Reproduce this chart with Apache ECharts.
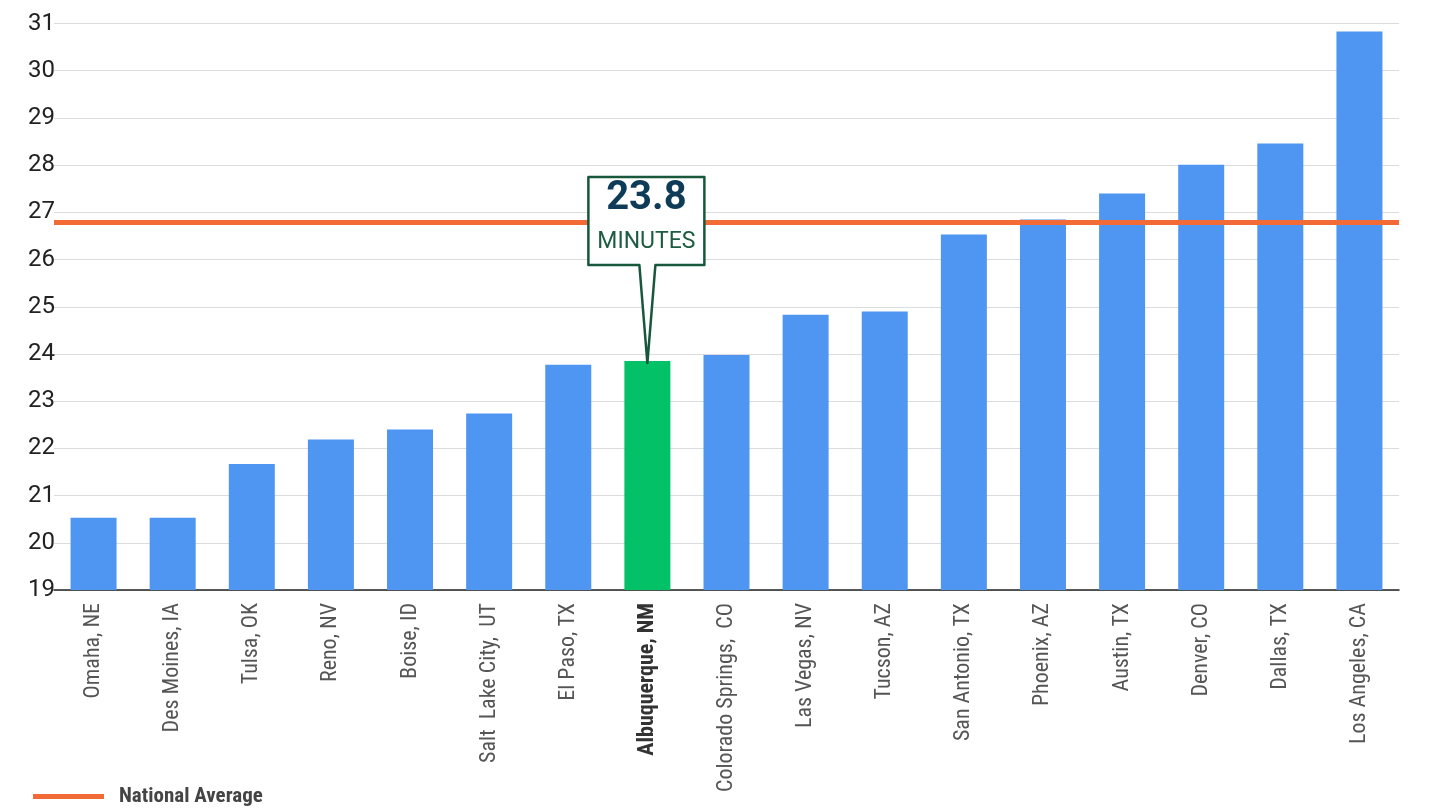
<!DOCTYPE html>
<html><head><meta charset="utf-8">
<script src="https://cdn.jsdelivr.net/npm/echarts@6/dist/echarts.min.js"></script>
<style>html,body{margin:0;padding:0;background:#fff}#c{width:1432px;height:808px}</style>
</head><body><div id="c"></div>
<script>
const categories = ['Omaha, NE','Des Moines, IA','Tulsa, OK','Reno, NV','Boise, ID','Salt  Lake City,  UT','El Paso, TX','Albuquerque, NM','Colorado Springs,  CO','Las Vegas, NV','Tucson, AZ','San Antonio, TX','Phoenix, AZ','Austin, TX','Denver, CO','Dallas, TX','Los Angeles, CA'];
const commuteMinutes = [20.53,20.53,21.67,22.19,22.4,22.74,23.77,23.85,23.98,24.83,24.9,26.53,26.85,27.4,28.01,28.46,30.83];
const nationalAverage = 26.78;
const highlightCity = 'Albuquerque, NM';
const calloutValue = '23.8';
const calloutUnit = 'MINUTES';
const legendName = 'National Average';
const yMin = 19, yMax = 31, yInterval = 1;

const BLUE = '#4f95f2', GREEN = '#02c167', ORANGE = '#f26a36';
const NARROW = '"Liberation Sans Narrow","Roboto Condensed","DejaVu Sans Condensed",Roboto,sans-serif';
const hi = categories.indexOf(highlightCity);

const chart = echarts.init(document.getElementById('c'), null, {renderer:'canvas'});
chart.setOption({
  animation:false,
  backgroundColor:'#ffffff',
  grid:{left:54, right:33, top:23.5, bottom:218, containLabel:false},
  legend:{
    left:28, top:781, itemWidth:71, itemHeight:5, icon:'rect',
    data:[{name:legendName, icon:'rect'}],
    textStyle:{fontFamily:NARROW, fontWeight:'bold', fontSize:21, color:'#444', padding:[0,0,0,10]}
  },
  xAxis:{
    type:'category',
    data:categories.map(c => c === highlightCity ? {value:c, textStyle:{fontWeight:'bold', color:'#333'}} : c),
    axisLine:{lineStyle:{color:'#222', width:1.5}},
    axisTick:{show:false},
    axisLabel:{rotate:90, interval:0, margin:13, fontFamily:NARROW, fontSize:22, color:'#555'}
  },
  yAxis:{
    type:'value', min:yMin, max:yMax, interval:yInterval,
    axisLine:{show:false}, axisTick:{show:false},
    axisLabel:{margin:-1, fontFamily:'Roboto', fontSize:24, color:'#222'},
    splitLine:{lineStyle:{color:'#dadddf', width:1}}
  },
  series:[
    {
      type:'bar', name:'Commute', barWidth:46, z:2,
      data:commuteMinutes.map((v,i) => i === hi ? {value:v, itemStyle:{color:GREEN}} : v),
      itemStyle:{color:BLUE}
    },
    {
      type:'line', name:legendName, data:[], color:ORANGE, z:5,
      markLine:{
        silent:true, symbol:'none', animation:false,
        label:{show:false},
        lineStyle:{color:ORANGE, width:5, type:'solid'},
        data:[{yAxis:nationalAverage}]
      }
    }
  ]
});

const p = chart.convertToPixel({seriesIndex:0}, [hi, commuteMinutes[hi]]);
const tx = p[0], ty = p[1];
const bw = 116, bh = 88, gap = 96;
const cx = tx - 1, bb = ty - gap, bt = bb - bh, bl = cx - bw/2, br = cx + bw/2;
chart.setOption({graphic:[
  {type:'polygon', z:100, shape:{points:[[bl,bt],[br,bt],[br,bb],[cx+9,bb],[tx,ty+2],[cx-7,bb],[bl,bb]]},
   style:{fill:'#ffffff', stroke:'#17583d', lineWidth:2.5, lineJoin:'round'}},
  {type:'text', z:101, x:cx, y:bt+22, style:{text:calloutValue, font:'bold 40px Roboto', fill:'#0e3b57', align:'center', verticalAlign:'middle'}},
  {type:'text', z:101, x:cx, y:bt+65, style:{text:calloutUnit, font:'23px Roboto', fill:'#1d5c40', align:'center', verticalAlign:'middle'}}
]});
</script></body></html>
